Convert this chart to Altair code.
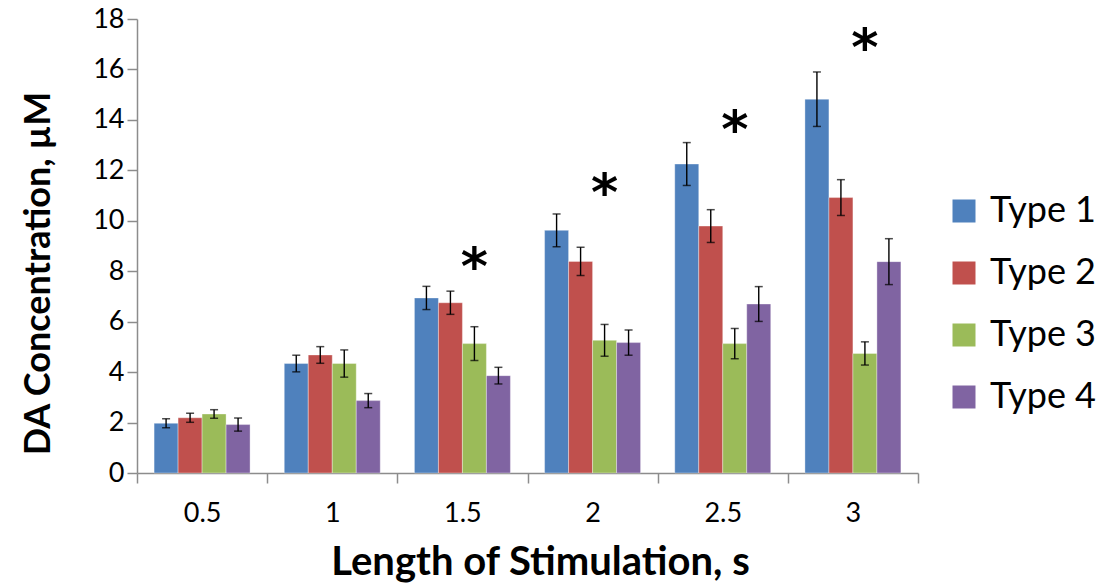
import altair as alt
import pandas as pd

categories = ["0.5", "1", "1.5", "2", "2.5", "3"]
series = ["Type 1", "Type 2", "Type 3", "Type 4"]
colors = ["#4F81BD", "#C0504D", "#9BBB59", "#8064A2"]

type1 = [1.97, 4.34, 6.94, 9.62, 12.25, 14.82]
type2 = [2.19, 4.68, 6.75, 8.39, 9.79, 10.92]
type3 = [2.34, 4.34, 5.13, 5.26, 5.13, 4.74]
type4 = [1.92, 2.87, 3.86, 5.17, 6.70, 8.38]

err1 = [0.18, 0.33, 0.46, 0.65, 0.85, 1.08]
err2 = [0.18, 0.33, 0.46, 0.56, 0.65, 0.71]
err3 = [0.17, 0.54, 0.67, 0.63, 0.60, 0.46]
err4 = [0.26, 0.28, 0.33, 0.50, 0.69, 0.91]

star_categories = ["1.5", "2", "2.5", "3"]
star_heights = [8.5, 11.43, 13.93, 17.18]
y_ticks = [0, 2, 4, 6, 8, 10, 12, 14, 16, 18]

rows = []
for s, vals, errs in zip(series, [type1, type2, type3, type4], [err1, err2, err3, err4]):
    for c, v, e in zip(categories, vals, errs):
        rows.append({"cat": c, "type": s, "value": v, "lo": v - e, "hi": v + e})
df = pd.DataFrame(rows)

stars = pd.DataFrame({"cat": star_categories, "type": ["Type 3"] * len(star_categories),
                      "y": star_heights})

FONT = "Lato"
GREY = "#8c8c8c"

x = alt.X("cat:N", sort=categories,
          scale=alt.Scale(paddingInner=0, paddingOuter=0),
          axis=alt.Axis(title="Length of Stimulation, s", labelAngle=0, tickBand="extent",
                        labelFont=FONT, labelFontSize=27, labelColor="#000000",
                        labelPadding=17, tickSize=10, tickColor=GREY, domainColor=GREY,
                        domainWidth=1.5, tickWidth=1.5,
                        titleFont=FONT, titleFontSize=40, titleFontWeight="bold",
                        titleColor="#000000", titleX=403, titleY=89,
                        titleBaseline="middle", titleAlign="center"))
xoff = alt.XOffset("type:N", sort=series,
                   scale=alt.Scale(paddingInner=0, paddingOuter=0.7125))
yscale = alt.Scale(domain=[0, 18], nice=False)

bars = alt.Chart(df).mark_bar(stroke="#ffffff", strokeOpacity=0.35, strokeWidth=1).encode(
    x=x,
    xOffset=xoff,
    y=alt.Y("value:Q", scale=yscale,
            axis=alt.Axis(values=y_ticks, grid=False, title="DA Concentration, µM",
                          labelFont=FONT, labelFontSize=27, labelColor="#000000",
                          labelPadding=3, tickSize=10, tickColor=GREY, domainColor=GREY,
                          domainWidth=1.5, tickWidth=1.5,
                          titleFont=FONT, titleFontSize=36, titleFontWeight="bold",
                          titleColor="#000000", titleAngle=270, titleX=-99, titleY=254,
                          titleBaseline="middle", titleAlign="center")),
    color=alt.Color("type:N", sort=series, title=None,
                    scale=alt.Scale(domain=series, range=colors),
                    legend=alt.Legend(orient="none", legendX=809, legendY=174,
                                      symbolType="square", symbolSize=529,
                                      symbolStrokeWidth=0, labelFont=FONT,
                                      labelFontSize=36, labelColor="#000000",
                                      rowPadding=26, labelOffset=8)),
)

rules = alt.Chart(df).mark_rule(color="#000000", strokeWidth=1.4).encode(
    x=x, xOffset=xoff, y=alt.Y("lo:Q", scale=yscale), y2="hi:Q")
cap_lo = alt.Chart(df).mark_tick(color="#000000", thickness=1.5, size=8).encode(
    x=x, xOffset=xoff, y=alt.Y("lo:Q", scale=yscale))
cap_hi = alt.Chart(df).mark_tick(color="#000000", thickness=1.5, size=8).encode(
    x=x, xOffset=xoff, y=alt.Y("hi:Q", scale=yscale))

star_marks = alt.Chart(stars).mark_text(
    text="*", font="DejaVu Sans", fontWeight="bold", fontSize=52,
    baseline="middle", align="center", dy=9, color="#000000").encode(
    x=x, xOffset=xoff, y=alt.Y("y:Q", scale=yscale))

chart = alt.layer(bars, rules, cap_lo, cap_hi, star_marks).properties(
    width=781, height=454,
    autosize=alt.AutoSizeParams(type="none"),
    padding={"left": 137, "top": 19, "right": 191, "bottom": 115},
    background="#ffffff",
).configure_view(stroke=None)

chart.save("out.html", embed_options={"renderer": "svg", "actions": False})
